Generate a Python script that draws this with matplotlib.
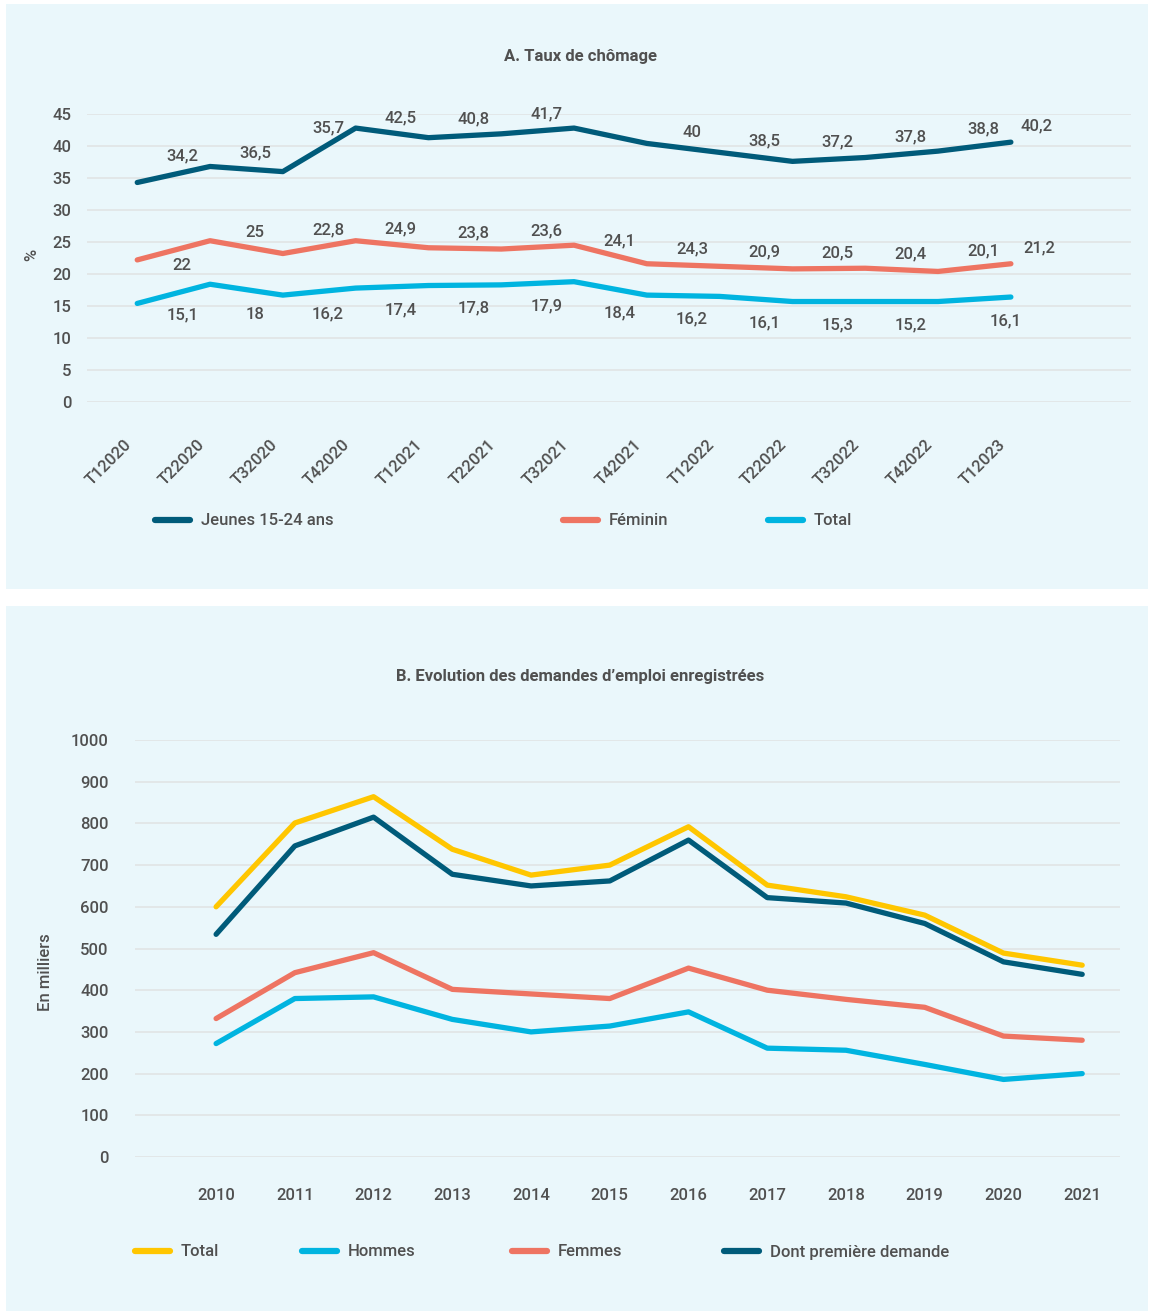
import matplotlib
matplotlib.use('Agg')
import matplotlib.pyplot as plt
from matplotlib import font_manager
from matplotlib.patches import Rectangle
from matplotlib.lines import Line2D
from matplotlib.transforms import ScaledTranslation
import numpy as np

# police
names = {f.name for f in font_manager.fontManager.ttflist}
fam = 'DejaVu Sans'
for cand in ['Roboto', 'Open Sans', 'DejaVu Sans']:
    if cand in names:
        fam = cand
        break
plt.rcParams['font.family'] = [fam, 'DejaVu Sans']
plt.rcParams['font.weight'] = 'medium'

W, H = 1150, 1311
BG = '#EAF7FB'
TXT = '#505050'
GRID = '#E2E6E7'
DARK = '#005B7A'
SALMON = '#EE7462'
CYAN = '#00B4E0'
YELLOW = '#FFC600'

# --- A. Taux de chômage ---
quarters = ['T12020', 'T22020', 'T32020', 'T42020', 'T12021', 'T22021', 'T32021',
            'T42021', 'T12022', 'T22022', 'T32022', 'T42022', 'T12023']
jeunes = [34.3, 36.8, 36.0, 42.8, 41.3, 41.9, 42.8, 40.4, 39.0, 37.6, 38.2, 39.2, 40.6]
feminin = [22.2, 25.2, 23.2, 25.2, 24.1, 23.9, 24.5, 21.6, 21.2, 20.8, 20.9, 20.4, 21.6]
total_a = [15.4, 18.4, 16.7, 17.8, 18.2, 18.3, 18.8, 16.7, 16.5, 15.7, 15.7, 15.7, 16.4]
jeunes_lbl = ['34,2', '36,5', '35,7', '42,5', '40,8', '41,7', '', '40', '38,5', '37,2', '37,8', '38,8', '40,2']
feminin_lbl = ['22', '25', '22,8', '24,9', '23,8', '23,6', '24,1', '24,3', '20,9', '20,5', '20,4', '20,1', '21,2']
total_lbl = ['15,1', '18', '16,2', '17,4', '17,8', '17,9', '18,4', '16,2', '16,1', '15,3', '15,2', '', '16,1']

# --- B. Demandes d'emploi ---
years = [2010, 2011, 2012, 2013, 2014, 2015, 2016, 2017, 2018, 2019, 2020, 2021]
total_b = [600, 801, 864, 738, 676, 700, 792, 652, 624, 580, 489, 460]
hommes = [272, 380, 384, 330, 300, 314, 348, 261, 256, 222, 186, 200]
femmes = [332, 442, 490, 402, 391, 380, 453, 400, 378, 359, 290, 280]
premiere = [534, 746, 815, 678, 650, 662, 760, 622, 609, 560, 468, 438]

fig = plt.figure(figsize=(W / 100, H / 100), dpi=100)
fig.patch.set_facecolor('white')
fig.patches.append(Rectangle((6 / W, 1 - 589 / H), 1142 / W, 585 / H, transform=fig.transFigure,
                             facecolor=BG, edgecolor='none', zorder=-5))
fig.patches.append(Rectangle((6 / W, 0), 1142 / W, 705 / H, transform=fig.transFigure,
                             facecolor=BG, edgecolor='none', zorder=-5))


def style_axes(ax):
    ax.set_facecolor('none')
    for s in ax.spines.values():
        s.set_visible(False)
    ax.grid(axis='y', color=GRID, lw=1.3)
    ax.grid(axis='x', visible=False)
    ax.set_axisbelow(True)
    ax.tick_params(length=0, labelsize=12, colors=TXT)


def legend_item(x_px, y_px, color, label):
    h = Line2D([], [], color=color, lw=4.5, solid_capstyle='round')
    fig.legend(handles=[h], labels=[label], loc='center left',
               bbox_to_anchor=(x_px / W, 1 - y_px / H), frameon=False,
               handlelength=2.1, handletextpad=0.65, fontsize=12,
               borderpad=0, borderaxespad=0, labelcolor=TXT)


# Panel A
axA = fig.add_axes([87 / W, 1 - 402 / H, 1044 / W, 288 / H])
style_axes(axA)
x = np.arange(len(quarters))
series_a = [(jeunes, jeunes_lbl, DARK, 2.6, 0.35),
            (feminin, feminin_lbl, SALMON, 2.5, 0.39),
            (total_a, total_lbl, CYAN, -3.6, -0.07)]
for vals, lbls, col, dy, last_dx in series_a:
    axA.plot(x, vals, color=col, lw=3.8, solid_capstyle='round', solid_joinstyle='round', zorder=3)
    for i, t in enumerate(lbls):
        if not t:
            continue
        lx = i + 0.62 if i < len(vals) - 1 else i + last_dx
        ly = np.interp(lx, x, vals) + dy
        if col == SALMON and i == 0:
            ly = np.interp(lx, x, vals) - 2.8
        axA.text(lx, ly, t, ha='center', va='center', fontsize=12, color=TXT)

axA.set_xlim(-0.69, 13.65)
axA.set_ylim(0, 45)
axA.set_yticks(range(0, 50, 5))
axA.set_xticks(x)
axA.set_xticklabels(quarters, rotation=45, ha='right', va='center', rotation_mode='anchor')
axA.tick_params(axis='x', pad=29)
axA.tick_params(axis='y', pad=11)
for lbl in axA.get_xticklabels():
    lbl.set_transform(lbl.get_transform() + ScaledTranslation(-8 / 100, 0, fig.dpi_scale_trans))

fig.text(580 / W, 1 - 57 / H, 'A. Taux de chômage', ha='center', va='center',
         fontsize=12, fontweight='semibold', color=TXT)
fig.text(32 / W, 1 - 255 / H, '%', rotation=90, ha='center', va='center', fontsize=12, color=TXT)

legend_item(155, 521, DARK, 'Jeunes 15-24 ans')
legend_item(563, 521, SALMON, 'Féminin')
legend_item(768, 521, CYAN, 'Total')

# Panel B
axB = fig.add_axes([135 / W, 1 - 1157 / H, 985 / W, 417 / H])
style_axes(axB)
for vals, col in [(total_b, YELLOW), (hommes, CYAN), (femmes, SALMON), (premiere, DARK)]:
    axB.plot(years, vals, color=col, lw=3.8, solid_capstyle='round', solid_joinstyle='round', zorder=3)
axB.set_xlim(2008.97, 2021.48)
axB.set_ylim(0, 1000)
axB.set_yticks(range(0, 1100, 100))
axB.set_xticks(years)
axB.tick_params(axis='x', pad=22)
axB.tick_params(axis='y', pad=19)

fig.text(580 / W, 1 - 676 / H, 'B. Evolution des demandes d\u2019emploi enregistrées', ha='center',
         va='center', fontsize=12, fontweight='semibold', color=TXT)
fig.text(45 / W, 1 - 972 / H, 'En milliers', rotation=90, ha='center', va='center',
         fontsize=12, color=TXT)

legend_item(135, 1252, YELLOW, 'Total')
legend_item(302, 1252, CYAN, 'Hommes')
legend_item(512, 1252, SALMON, 'Femmes')
legend_item(724, 1252, DARK, 'Dont première demande')

fig.savefig('out.png', dpi=100, facecolor=fig.get_facecolor())
